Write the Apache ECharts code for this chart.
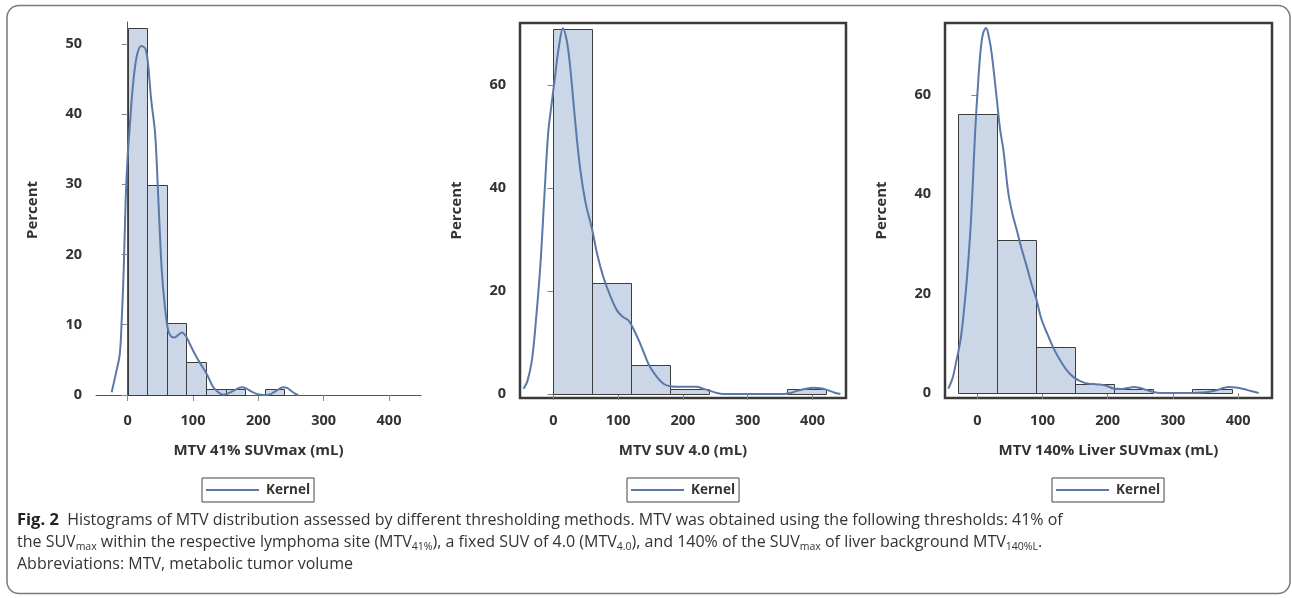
<!DOCTYPE html>
<html>
<head>
<meta charset="utf-8">
<script src="https://cdn.jsdelivr.net/npm/echarts@6/dist/echarts.min.js"></script>
<style>
html,body{margin:0;padding:0;background:#fff;}
#chart{width:1292px;height:598px;}
</style>
</head>
<body>
<div id="chart"></div>
<script>
// ---------- DATA ----------
const axisTitles = ['MTV 41% SUVmax (mL)', 'MTV SUV 4.0 (mL)', 'MTV 140% Liver SUVmax (mL)'];
const yTitle = 'Percent';
const legendLabel = 'Kernel';
const xTicks = [0, 100, 200, 300, 400];
const yTicks1 = [0, 10, 20, 30, 40, 50];
const yTicks2 = [0, 20, 40, 60];
const yTicks3 = [0, 20, 40, 60];

// histogram bins: start of bin, width, percent
const binStart1 = [0, 30, 60, 90, 120, 150, 180, 210];
const binWidth1 = 30;
const pct1 = [52.3, 29.9, 10.3, 4.7, 0.9, 0.9, 0, 0.9];

const binStart2 = [0, 60, 120, 180, 240, 300, 360];
const binWidth2 = 60;
const pct2 = [71.0, 21.5, 5.6, 0.9, 0, 0, 0.9];

const binStart3 = [-30, 30, 90, 150, 210, 270, 330];
const binWidth3 = 60;
const pct3 = [56.1, 30.8, 9.3, 1.9, 0.9, 0, 0.9];

// kernel density curves (x, percent)
const kernelX1 = [-24.5,-17,-12,-9,-6,-3,0,3,8,14,21,27,31,36,42,47,52,57,62,67,72,78,83,89,95,103,111,121,131,140,146,153,160,168,175,182,189,196,203,210,217,224,231,238,244,250,256,261];
const kernelY1 = [0.4,3.5,5.9,11,18,28,34,38,44,48.3,49.7,49.3,47.3,42,37.2,27.7,18,12.5,9.2,8.3,8.2,8.6,8.9,8.4,7.3,5.8,4.5,3.0,1.1,0.3,0.05,0.2,0.5,0.9,1.1,0.9,0.5,0.2,0.05,0,0.05,0.4,0.8,1.1,1.0,0.6,0.2,0];

const kernelX2 = [-46,-40,-33,-27,-20,-14,-8,-3,2,8,15,21,26,33,41,50,59,68,77,88,98,107,116,125,134,142,149,160,170,180,191,205,221,232,242,252,262,300,355,366,376,390,401,412,422,433,443];
const kernelY2 = [1,2.5,6.6,14,25,38,50.6,56,61,67,71.1,68.5,63.6,54,44.2,37,32.5,27,22.8,19,16.3,15,14.3,12.3,9.8,7.3,5.3,3.3,2,1.5,1.4,1.4,1.4,1.0,0.6,0.2,0,0,0,0.2,0.6,1.0,1.2,1.1,0.8,0.3,0];

const kernelX3 = [-44.5,-38,-32,-26,-21.5,-16,-11,-7,-3.5,1,5,9,13.4,18,22,30,35,40,47.6,54,60.5,68,76,83,91,98,107,117,127,137,147.5,158,168,178,188.5,199,209,220,230,240,250,260,270,281,300,330,347,357,368,377,385.5,397,408.5,420,431.5];
const kernelY3 = [0.9,3,6.6,10.5,15.3,23,32,42,52.3,62,69,72.5,73.5,71.5,68.4,59,53,48.9,40.2,36,32.8,29,25.4,22,18.7,15,12,9,6.6,4.6,3.2,2.4,1.9,1.8,1.7,1.4,0.9,0.8,1.0,1.2,1.0,0.6,0.2,0,0,0,0.1,0.3,0.6,1.0,1.2,1.1,0.8,0.4,0];

// caption
const captionLines = [
  '{b|Fig. 2}{n|  Histograms of MTV distribution assessed by different thresholding methods. MTV was obtained using the following thresholds: 41% of}',
  '{n|the SUV}{s|max}{n| within the respective lymphoma site (MTV}{s|41%}{n|), a fixed SUV of 4.0 (MTV}{s|4.0}{n|), and 140% of the SUV}{s|max}{n| of liver background MTV}{s|140%L}{n|.}',
  '{n|Abbreviations: MTV, metabolic tumor volume}'
];

// ---------- BUILD ----------
const TXT = '#333333';
const FONT = '"Open Sans", "Noto Sans", sans-serif';
const CAPFONT = '"Open Sans", "Noto Sans", sans-serif';
const panels = [
  {bins: binStart1, w: binWidth1, pct: pct1, kx: kernelX1, ky: kernelY1, yt: yTicks1,
   grid: {left: 96, top: 22, width: 325, height: 376}, xr: [-48.5, 449], yr: [-0.43, 53.1], frame: false,
   legend: {left: 202, top: 478}},
  {bins: binStart2, w: binWidth2, pct: pct2, kx: kernelX2, ky: kernelY2, yt: yTicks2,
   grid: {left: 520, top: 23, width: 326, height: 375}, xr: [-51.4, 451.6], yr: [-0.78, 72.1], frame: true,
   legend: {left: 627, top: 478}},
  {bins: binStart3, w: binWidth3, pct: pct3, kx: kernelX3, ky: kernelY3, yt: yTicks3,
   grid: {left: 945, top: 23, width: 327, height: 375}, xr: [-49.6, 452], yr: [-1.0, 74.5], frame: true,
   legend: {left: 1052, top: 478}}
];

const grids = [], xAxes = [], yAxes = [], series = [], legends = [];
panels.forEach((p, i) => {
  grids.push(Object.assign({}, p.grid, {
    show: p.frame, borderColor: '#3a3a3a', borderWidth: p.frame ? 2.5 : 0, backgroundColor: 'transparent'
  }));
  xAxes.push({
    type: 'value', gridIndex: i, min: p.xr[0], max: p.xr[1],
    name: axisTitles[i], nameLocation: 'middle', nameGap: 45,
    nameTextStyle: {color: TXT, fontWeight: 'bold', fontSize: 15, fontFamily: FONT},
    axisLine: {show: !p.frame, lineStyle: {color: '#555', width: 1}},
    axisTick: {show: true, length: 6, lineStyle: {color: '#888'}, customValues: xTicks},
    axisLabel: {color: TXT, fontWeight: 'bold', fontSize: 14.5, fontFamily: FONT, margin: 15, customValues: xTicks},
    splitLine: {show: false}
  });
  yAxes.push({
    type: 'value', gridIndex: i, min: p.yr[0], max: p.yr[1],
    name: yTitle, nameLocation: 'middle', nameGap: 56, nameRotate: 90,
    nameTextStyle: {color: TXT, fontWeight: 'bold', fontSize: 15, fontFamily: FONT},
    axisLine: {show: !p.frame, lineStyle: {color: '#555', width: 1}},
    axisTick: {show: true, length: 6, lineStyle: {color: '#888'}, customValues: p.yt},
    axisLabel: {color: TXT, fontWeight: 'bold', fontSize: 14.5, fontFamily: FONT, margin: 14, customValues: p.yt},
    splitLine: {show: false}
  });
  const barData = [];
  p.bins.forEach((b, k) => { if (p.pct[k] > 0) barData.push([b, b + p.w, p.pct[k]]); });
  series.push({
    type: 'custom', name: 'Histogram' + i, xAxisIndex: i, yAxisIndex: i,
    data: barData, encode: {x: [0, 1], y: 2}, silent: true,
    renderItem: function (params, api) {
      const p0 = api.coord([api.value(0), api.value(2)]);
      const p1 = api.coord([api.value(1), 0]);
      return {type: 'rect',
        shape: {x: Math.round(p0[0]) + 0.5, y: Math.round(p0[1]) + 0.5, width: Math.round(p1[0]) - Math.round(p0[0]), height: Math.round(p1[1]) - Math.round(p0[1])},
        style: {fill: '#cbd6e6', stroke: '#3c3c3c', lineWidth: 1}};
    }
  });
  series.push({
    type: 'line', name: legendLabel, xAxisIndex: i, yAxisIndex: i,
    data: p.kx.map((x, k) => [x, p.ky[k]]),
    smooth: 0.35, symbol: 'none', silent: true,
    lineStyle: {color: '#5b79a8', width: 2}, itemStyle: {color: '#5b79a8'}
  });
  legends.push({
    left: p.legend.left, top: p.legend.top, orient: 'horizontal',
    data: [{name: legendLabel, icon: 'rect'}], itemWidth: 53, itemHeight: 2, itemGap: 0,
    padding: [5, 4, 5, 4], borderColor: '#444', borderWidth: 1, selectedMode: false,
    textStyle: {color: TXT, fontWeight: 'bold', fontSize: 13.5, fontFamily: FONT, padding: [0, 0, 0, 2]},
    itemStyle: {color: '#5b79a8'}
  });
});

const chart = echarts.init(document.getElementById('chart'), null, {renderer: 'canvas'});
chart.setOption({
  animation: false,
  backgroundColor: '#fff',
  grid: grids, xAxis: xAxes, yAxis: yAxes, series: series, legend: legends,
  graphic: [
    {type: 'rect', shape: {x: 7, y: 5.5, width: 1283, height: 588, r: 12},
     style: {fill: 'none', stroke: '#7a7a7a', lineWidth: 1.5}, silent: true, z: -1},
    {type: 'text', x: 17, y: 509, silent: true,
     style: {
       text: captionLines.join('\n'),
       fill: '#333', fontFamily: CAPFONT, fontSize: 16, lineHeight: 22,
       rich: {
         b: {fontFamily: CAPFONT, fontWeight: 'bold', fontSize: 16.5, fill: '#222', lineHeight: 22},
         n: {fontFamily: CAPFONT, fontSize: 16, fill: '#333', lineHeight: 22},
         s: {fontFamily: CAPFONT, fontSize: 10.5, fill: '#333', lineHeight: 14, verticalAlign: 'bottom'}
       }
     }}
  ]
});
</script>
</body>
</html>
